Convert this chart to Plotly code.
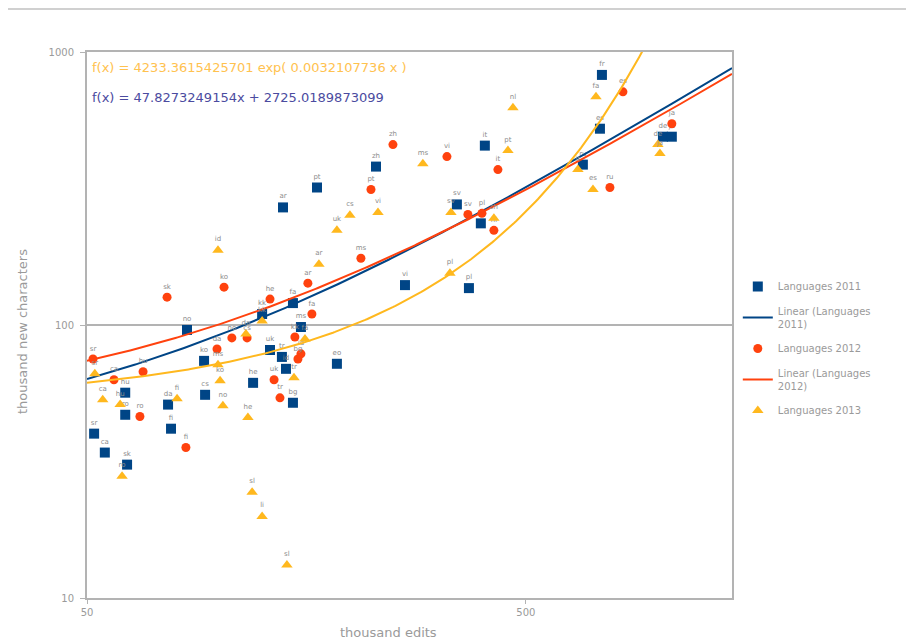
import numpy as np
import plotly.graph_objects as go

# ---- data (thousand edits, thousand new characters) ----
x2011 = [51.9, 54.9, 61.7, 61.1, 61.1, 76.5, 77.7, 84.5, 92.4, 92.9, 119.5, 125.3, 130.6, 139.8, 139.0, 142.0,
         147.3, 147.3, 153.6, 167.1, 185.5, 227.7, 265.1, 348.1, 370.8, 394.7, 403.1, 674.1, 737.3, 745.0, 1026, 1075]
y2011 = [40.0, 34.1, 30.8, 56.5, 46.9, 51.1, 41.7, 95.9, 73.9, 55.5, 61.4, 109.7, 81.0, 269.6, 76.4, 69.1,
         51.9, 120.3, 98.3, 318.9, 72.1, 380.4, 140.0, 276.5, 136.5, 235.7, 454.0, 386.8, 523.6, 824.3, 489.5, 489.5]
lab2011 = ["sr", "ca", "sk", "hu", "ro", "da", "fi", "no", "ko", "cs", "he", "kk", "uk", "ar", "tr", "id",
           "bg", "fa", "ms", "pt", "eo", "zh", "vi", "sv", "pl", "nl", "it", "ru", "es", "fr", "de", "ja"]

x2012 = [51.6, 57.6, 67.1, 66.0, 76.1, 84.0, 98.9, 102.6, 106.9, 115.8, 130.6, 133.4, 137.6, 148.8, 151.2,
         153.6, 159.3, 162.7, 210.4, 221.8, 248.9, 330.4, 368.8, 397.0, 422.7, 431.7, 776.8, 831.8, 1075]
y2012 = [75.1, 63.0, 67.4, 46.2, 126.5, 35.6, 81.7, 137.6, 89.7, 89.7, 124.4, 63.0, 54.1, 90.4, 75.1,
         78.4, 142.3, 109.7, 175.6, 313.6, 457.9, 413.9, 254.2, 256.4, 222.2, 370.9, 318.9, 714.5, 546]
lab2012 = ["sr", "ca", "hu", "ro", "sk", "fi", "da", "ko", "no", "cs", "he", "uk", "tr", "kk", "bg",
           "id", "ar", "fa", "ms", "pt", "zh", "vi", "sv", "pl", "nl", "it", "ru", "es", "ja"]

x2013 = [52.1, 54.3, 59.5, 60.1, 80.2, 99.4, 99.4, 100.5, 102.0, 115.1, 116.3, 118.9, 125.3, 125.3, 142.7, 148.1,
         156.9, 168.8, 185.5, 198.6, 230.1, 291.2, 335.6, 337.4, 422.7, 455.0, 467.1, 656.8, 710.8, 722.1, 999.2, 1010]
y2013 = [66.3, 53.2, 51.1, 27.9, 53.7, 187.8, 71.5, 62.5, 50.6, 92.7, 45.8, 24.4, 19.9, 103.4, 13.2, 64.1,
         88.9, 167.0, 222.2, 252.1, 258.5, 390.0, 154.8, 258.5, 245.8, 435.3, 624.8, 370.9, 313.6, 685.1, 457.9, 424.4]
lab2013 = ["sr", "ca", "hu", "ro", "fi", "id", "ms", "ko", "no", "da", "he", "sl", "li", "kk", "sl", "tr",
           "fa", "ar", "uk", "cs", "vi", "ms", "pl", "sv", "zh", "pt", "nl", "it", "es", "fa", "de", "ja"]

# trend lines as shown in the chart (y = a*x + b ; y = A*exp(k*x))
lin2011 = (0.569, 35.0)
lin2012 = (0.532, 47.3)
exp2013 = (52.3, 0.00321)

x_min, x_max = 50, 1474
y_ticks = [10, 100, 1000]
y_ticktext = ["10", "100", "1000"]
x_ticks = [50, 500]
x_ticktext = ["50", "500"]

BLUE = "#004586"
RED = "#FF420E"
YEL = "#FFB81E"
GRAY = "#9a9a9a"
AX = "#b3b3b3"
FONT = "DejaVu Sans, Liberation Sans, sans-serif"

xs = np.geomspace(x_min, x_max, 300)

fig = go.Figure()
lbl_font = dict(size=7, color="#8c8c8c", family=FONT)

fig.add_trace(go.Scatter(x=x2011, y=y2011, mode="markers+text", text=lab2011, textposition="top center",
                         textfont=lbl_font, marker=dict(symbol="square", size=10, color=BLUE),
                         name="Languages 2011", legendgroup="a"))
fig.add_trace(go.Scatter(x=xs, y=lin2011[0] * xs + lin2011[1], mode="lines",
                         line=dict(color=BLUE, width=2), name="Linear (Languages<br>2011)", legendgroup="b"))
fig.add_trace(go.Scatter(x=x2012, y=y2012, mode="markers+text", text=lab2012, textposition="top center",
                         textfont=lbl_font, marker=dict(symbol="circle", size=9, color=RED),
                         name="Languages 2012", legendgroup="c"))
fig.add_trace(go.Scatter(x=xs, y=lin2012[0] * xs + lin2012[1], mode="lines",
                         line=dict(color=RED, width=2), name="Linear (Languages<br>2012)", legendgroup="d"))
fig.add_trace(go.Scatter(x=x2013, y=y2013, mode="markers+text", text=lab2013, textposition="top center",
                         textfont=lbl_font, marker=dict(symbol="triangle-up", size=10, color=YEL),
                         name="Languages 2013", legendgroup="e"))
fig.add_trace(go.Scatter(x=xs, y=exp2013[0] * np.exp(exp2013[1] * xs), mode="lines",
                         line=dict(color=YEL, width=2), showlegend=False, name="Exp (Languages 2013)"))

W, H = 906, 633
L, T, PW, PH = 79, 44, 645, 546
fig.update_layout(
    width=W, height=H,
    margin=dict(l=L, r=W - L - PW, t=T, b=H - T - PH),
    paper_bgcolor="white", plot_bgcolor="white",
    font=dict(family=FONT, color=GRAY, size=10),
    showlegend=True,
    legend=dict(x=1.009, y=0.597, xanchor="left", yanchor="top", font=dict(size=10, color=GRAY, family=FONT),
                bgcolor="rgba(0,0,0,0)", tracegroupgap=7),
    xaxis=dict(type="log", range=[np.log10(x_min), np.log10(x_max)], tickvals=x_ticks, ticktext=x_ticktext,
               showgrid=False, zeroline=False, showline=True, linecolor=AX, linewidth=2, mirror=True,
               ticks="outside", ticklen=4, tickcolor=AX, tickfont=dict(size=10, color=GRAY)),
    yaxis=dict(type="log", range=[1, 3], tickvals=y_ticks, ticktext=y_ticktext,
               showgrid=True, gridcolor=AX, gridwidth=2, zeroline=False, showline=True, linecolor=AX,
               linewidth=2, mirror=True, ticks="outside", ticklen=5, tickcolor=AX, ticklabelstandoff=4,
               tickfont=dict(size=10, color=GRAY)),
)

fig.add_annotation(xref="paper", yref="paper", x=(380 - L) / PW, y=(T + PH - 624) / PH, text="thousand edits",
                   showarrow=False, font=dict(size=13, color=GRAY), xanchor="center", yanchor="middle")
fig.add_annotation(xref="paper", yref="paper", x=(14 - L) / PW, y=(T + PH - 324) / PH,
                   text="thousand new characters", textangle=-90,
                   showarrow=False, font=dict(size=13, color=GRAY), xanchor="center", yanchor="middle")
fig.add_annotation(xref="paper", yref="paper", x=0.004, y=(T + PH - 59) / PH,
                   text="f(x) = 4233.3615425701 exp( 0.0032107736 x )", showarrow=False,
                   font=dict(size=13, color="#FFC24F"), xanchor="left", yanchor="middle")
fig.add_annotation(xref="paper", yref="paper", x=0.004, y=(T + PH - 89) / PH,
                   text="f(x) = 47.8273249154x + 2725.0189873099", showarrow=False,
                   font=dict(size=13, color="#4B4BA0"), xanchor="left", yanchor="middle")
fig.add_shape(type="line", xref="paper", yref="paper", x0=-L / PW, x1=(W - L) / PW,
              y0=1 + (T - 1) / PH, y1=1 + (T - 1) / PH, line=dict(color="#d0d0d0", width=2))

fig.write_html("out.html")
